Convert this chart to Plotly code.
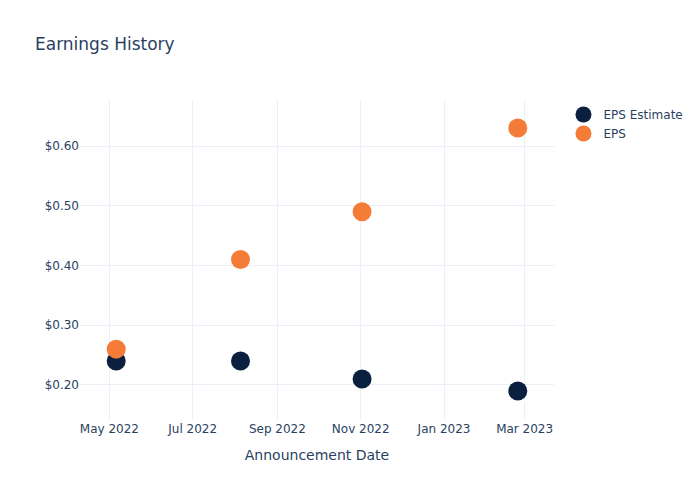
import plotly.graph_objects as go

dates = ["2022-05-06", "2022-08-05", "2022-11-02", "2023-02-24"]
eps_estimate = [0.24, 0.24, 0.21, 0.19]
eps_actual = [0.26, 0.41, 0.49, 0.63]

fig = go.Figure()
fig.add_trace(go.Scatter(x=dates, y=eps_estimate, mode="markers", name="EPS Estimate",
                         marker=dict(color="#0b1f3f", size=19)))
fig.add_trace(go.Scatter(x=dates, y=eps_actual, mode="markers", name="EPS",
                         marker=dict(color="#f57c36", size=19)))

fig.update_layout(
    template="plotly_white",
    width=700, height=500,
    font=dict(family="DejaVu Sans"),
    title=dict(text="Earnings History"),
    xaxis=dict(title=dict(text="Announcement Date"), range=["2022-04-09 12:00", "2023-03-22 12:00"]),
    yaxis=dict(tickprefix="$", tickformat=".2f", range=[0.1414, 0.677], dtick=0.1),
)
fig.write_html("out.html", config={"displayModeBar": False},
               post_script="document.body.style.margin='0';document.body.style.overflow='hidden';")
